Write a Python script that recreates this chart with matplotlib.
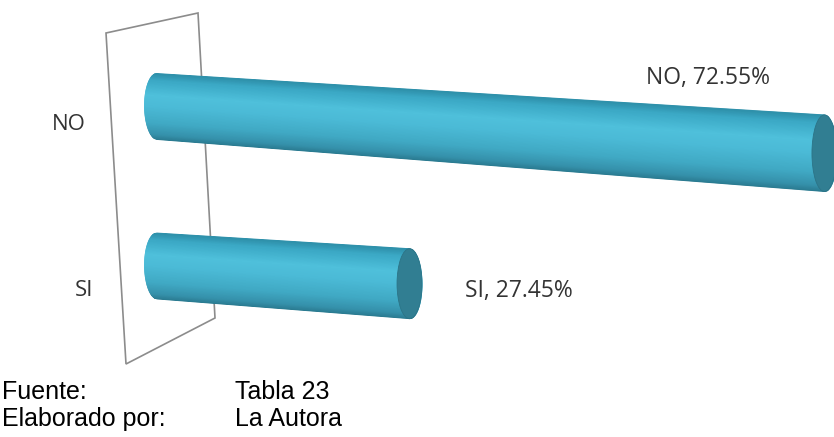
import numpy as np
import matplotlib
matplotlib.use('Agg')
import matplotlib.pyplot as plt
from matplotlib.collections import PolyCollection
from matplotlib.colors import LinearSegmentedColormap
from matplotlib.patches import Ellipse, Polygon

# survey answers
categories = ['SI', 'NO']
values = [27.45, 72.55]
value_labels = ['SI, 27.45%', 'NO, 72.55%']

W, H = 834, 437
fig = plt.figure(figsize=(W / 100, H / 100), dpi=100)

# background layer in pixel units: back wall, category names, footer
bg = fig.add_axes([0, 0, 1, 1])
bg.set_xlim(0, W)
bg.set_ylim(H, 0)
bg.axis('off')
bg.add_patch(Polygon([(106, 33), (198, 13), (215, 318), (126, 364)], closed=True,
                     fill=False, edgecolor='#8c8c8c', lw=1.2))

cat_font = dict(family='Open Sans', size=16, color='#333333', va='baseline', ha='center')
bg.text(69, 130, 'NO', **cat_font)
bg.text(84, 296, 'SI', **cat_font)

foot = dict(family='Liberation Sans', size=18, color='black', va='baseline')
bg.text(2, 399, 'Fuente:', **foot)
bg.text(2, 426, 'Elaborado por:', **foot)
bg.text(235, 399, 'Tabla 23', **foot)
bg.text(235, 426, 'La Autora', **foot)

# data layer: x in percent, y in category rows
ax = fig.add_axes([0, 0, 1, 1], facecolor='none')
px_pct = 9.2       # pixels per percent
x0 = 157           # pixel position of 0 %
row = 159.5        # pixels between rows
y0 = H - 266       # pixel height of first row from bottom
ax.set_xlim(-x0 / px_pct, (W - x0) / px_pct)
ax.set_ylim(-y0 / row, (H - y0) / row)
ax.axis('off')

slope = -0.07 * px_pct / row          # bars tilt down to the right
cap_w = 12.5 / px_pct                 # half width of the end ellipses


def half_h(x):
    return (33 + 0.008 * px_pct * x) / row


shade = LinearSegmentedColormap.from_list('cyl', [
    (0.0, '#2a7a90'), (0.075, '#3590aa'), (0.25, '#40a9c4'), (0.5, '#4bbad6'),
    (0.675, '#4fc0db'), (0.9, '#3ba8c5'), (1.0, '#2e90aa')])


def cylinder(ax, y, v, n=90):
    ts = np.linspace(-1, 1, n + 1)

    def pt(x, t):
        return (x, y + slope * x + t * half_h(x))

    polys, cols = [], []
    for t0, t1 in zip(ts[:-1], ts[1:]):
        r0 = cap_w * np.sqrt(max(0.0, 1 - t0 * t0))
        r1 = cap_w * np.sqrt(max(0.0, 1 - t1 * t1))
        polys.append([pt(-r0, t0), pt(v + r0, t0), pt(v + r1, t1), pt(-r1, t1)])
        cols.append(shade((t0 + t1 + 2) / 4))
    ax.add_collection(PolyCollection(polys, facecolors=cols, edgecolors=cols, lw=0.6))
    ax.add_patch(Ellipse((v, y + slope * v), 2 * cap_w, 2 * half_h(v),
                         facecolor='#317e92', edgecolor='#2c7487', lw=0.6))


offsets = [(40, -9.5, 'left'), (-84, 50, 'center')]
for i, (v, lab) in enumerate(zip(values, value_labels)):
    cylinder(ax, i, v)
    dx, dy, ha = offsets[i]
    ax.annotate(lab, xy=(v, i + slope * v), xytext=(dx, dy), textcoords='offset points',
                ha=ha, va='baseline', family='Open Sans', size=16.5, color='#333333')

fig.savefig('out.png', dpi=100)
